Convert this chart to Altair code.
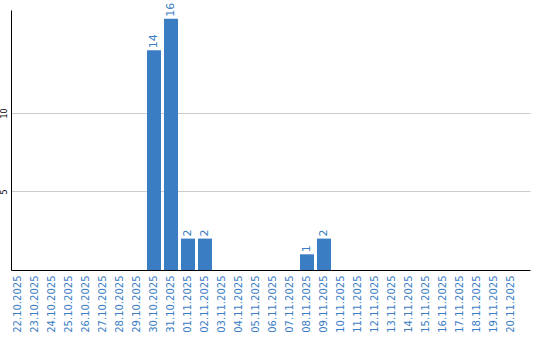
import altair as alt
import pandas as pd

dates = ["22.10.2025", "23.10.2025", "24.10.2025", "25.10.2025", "26.10.2025",
         "27.10.2025", "28.10.2025", "29.10.2025", "30.10.2025", "31.10.2025",
         "01.11.2025", "02.11.2025", "03.11.2025", "04.11.2025", "05.11.2025",
         "06.11.2025", "07.11.2025", "08.11.2025", "09.11.2025", "10.11.2025",
         "11.11.2025", "12.11.2025", "13.11.2025", "14.11.2025", "15.11.2025",
         "16.11.2025", "17.11.2025", "18.11.2025", "19.11.2025", "20.11.2025"]
counts = [0, 0, 0, 0, 0, 0, 0, 0, 14, 16,
          2, 2, 0, 0, 0, 0, 0, 1, 2, 0,
          0, 0, 0, 0, 0, 0, 0, 0, 0, 0]
y_ticks = [5, 10]

df = pd.DataFrame({"date": dates, "count": counts})
df["label"] = df["count"].apply(lambda v: str(v) if v > 0 else "")

BLUE = "#3b7dc3"

x = alt.X("date:N", sort=dates, title=None,
          scale=alt.Scale(paddingInner=0.176, paddingOuter=0.353, align=0),
          axis=alt.Axis(labelAngle=270, labelColor=BLUE, labelFont="DejaVu Sans",
                        labelFontSize=10, ticks=False, domainColor="#000000",
                        labelPadding=5, labelAlign="right", labelBaseline="middle"))
y = alt.Y("count:Q", title=None,
          scale=alt.Scale(domain=[0, 16.56], nice=False),
          axis=alt.Axis(values=y_ticks, labelAngle=270, labelFontSize=8,
                        labelFont="DejaVu Sans", labelColor="#000000",
                        ticks=False, domainColor="#000000", gridColor="#cccccc",
                        labelPadding=3))

bars = alt.Chart(df).mark_bar(color=BLUE).encode(x=x, y=y)
text = alt.Chart(df).mark_text(angle=270, align="left", baseline="middle",
                               dx=2, color=BLUE, font="DejaVu Sans",
                               fontSize=11).encode(x=x, y=y, text="label:N")

chart = (bars + text).properties(
    width=519, height=260,
    autosize=alt.AutoSizeParams(type="none"),
    padding={"left": 11, "top": 10, "right": 10, "bottom": 70},
).configure_view(stroke=None).configure_axis(domainWidth=1)

chart.save("out.html", embed_options={"renderer": "svg", "actions": False})
